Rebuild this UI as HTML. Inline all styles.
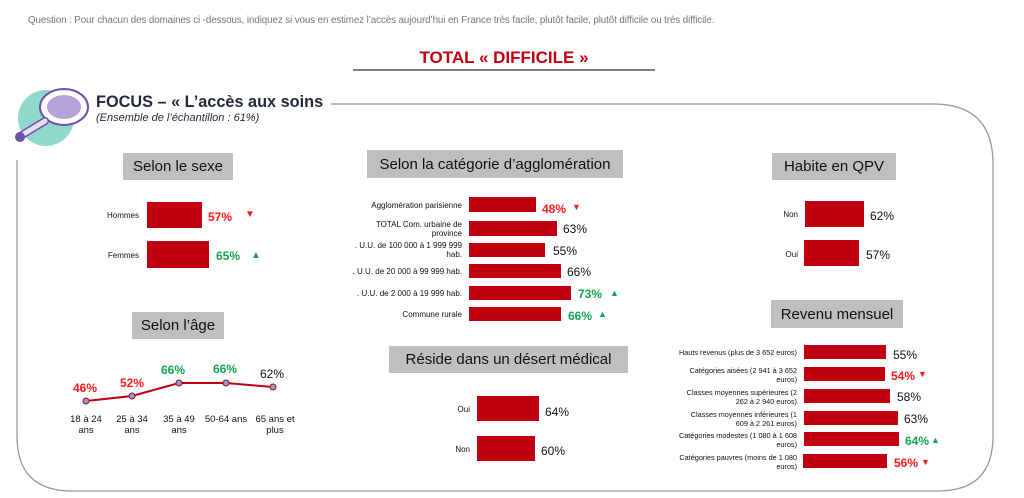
<!DOCTYPE html>
<html><head><meta charset="utf-8"><style>
body{margin:0;width:1024px;height:498px;background:#fff;position:relative;overflow:hidden;font-family:"Liberation Sans",sans-serif}
.a{position:absolute;white-space:nowrap}
.b{position:absolute;background:#c00010}
.h{position:absolute;background:#bfbfbf;color:#111;font-size:15px;text-align:center;display:flex;align-items:center;justify-content:center}
.l{position:absolute;font-size:8px;color:#111;text-align:right;line-height:9px}
.v{position:absolute;font-size:12px;color:#111;line-height:14px;white-space:nowrap}
.r{color:#ff1a1a;font-weight:bold}
.g{color:#13a550;font-weight:bold}
.al{position:absolute;font-size:9.5px;color:#111;text-align:center;width:50px;line-height:11px}
</style></head><body>
<svg class="a" style="left:0;top:0" width="1024" height="498">
<path d="M328 104 H933 Q993 104 993 164 V436 Q993 491 938 491 H72 Q17 491 17 436 V160" fill="none" stroke="#999" stroke-width="1.3"/>
<line x1="353" y1="70" x2="655" y2="70" stroke="#555" stroke-width="1.5"/>
<circle cx="46" cy="118" r="28" fill="#8fd8cc"/>
<ellipse cx="64" cy="107" rx="24" ry="18" fill="#fff" stroke="#6f4fa8" stroke-width="2"/>
<ellipse cx="64" cy="107" rx="17" ry="12" fill="#b7a2dc"/>
<line x1="45" y1="121" x2="22" y2="135" stroke="#6f4fa8" stroke-width="8" stroke-linecap="round"/>
<line x1="45" y1="121" x2="22" y2="135" stroke="#e6e0f2" stroke-width="5" stroke-linecap="round"/>
<circle cx="20" cy="137" r="5" fill="#6f4fa8"/>
<polyline points="86,401 132,396 179,383 226,383 273,387" fill="none" stroke="#c00010" stroke-width="2"/>
<g fill="#7f9fd8" stroke="#c00010" stroke-width="1"><circle cx="86" cy="401" r="3"/><circle cx="132" cy="396" r="3"/><circle cx="179" cy="383" r="3"/><circle cx="226" cy="383" r="3"/><circle cx="273" cy="387" r="3"/></g>
</svg>
<div class="a" style="left:28px;top:15px;font-size:9.8px;letter-spacing:-0.1px;color:#777">Question : Pour chacun des domaines ci -dessous, indiquez si vous en estimez l’accès aujourd’hui en France très facile, plutôt facile, plutôt difficile ou très difficile.</div>
<div class="a" style="left:353px;width:302px;text-align:center;top:48px;font-size:17px;font-weight:bold;color:#c00010">TOTAL « DIFFICILE »</div>
<div class="a" style="left:96px;top:93px;font-size:16.3px;font-weight:bold;color:#1f2a3a;background:#fff;padding-right:8px">FOCUS – « L’accès aux soins</div>
<div class="a" style="left:96px;top:112px;font-size:11px;font-style:italic;color:#1f2a3a">(Ensemble de l’échantillon : 61%)</div>

<div class="h" style="left:123px;top:153px;width:110px;height:27px">Selon le sexe</div>
<div class="l" style="left:60px;width:79px;top:211px">Hommes</div>
<div class="b" style="left:147px;top:202px;width:55px;height:26px"></div>
<div class="v r" style="left:208px;top:210px">57%</div><div class="v" style="left:245px;top:208px;color:#ff1a1a;font-size:10px">▼</div>
<div class="l" style="left:60px;width:79px;top:251px">Femmes</div>
<div class="b" style="left:147px;top:241px;width:62px;height:27px"></div>
<div class="v g" style="left:216px;top:249px">65%</div><div class="v" style="left:251px;top:249px;color:#13a550;font-size:10px">▲</div>

<div class="h" style="left:132px;top:312px;width:92px;height:27px">Selon l’âge</div>
<div class="v r" style="left:73px;top:381px">46%</div>
<div class="v r" style="left:120px;top:376px">52%</div>
<div class="v g" style="left:161px;top:363px">66%</div>
<div class="v g" style="left:213px;top:362px">66%</div>
<div class="v" style="left:260px;top:367px">62%</div>
<div class="al" style="left:61px;top:414px">18 à 24<br>ans</div>
<div class="al" style="left:107px;top:414px">25 à 34<br>ans</div>
<div class="al" style="left:154px;top:414px">35 à 49<br>ans</div>
<div class="al" style="left:199px;top:414px;width:54px">50-64 ans</div>
<div class="al" style="left:248px;top:414px;width:54px">65 ans et<br>plus</div>

<div class="h" style="left:367px;top:150px;width:256px;height:28px">Selon la catégorie d’agglomération</div>
<div class="l" style="left:300px;width:162px;top:201px">Agglomération parisienne</div>
<div class="b" style="left:469px;top:197px;width:67px;height:15px"></div>
<div class="v r" style="left:542px;top:202px">48%</div><div class="v" style="left:572px;top:200px;color:#ff1a1a;font-size:9px">▼</div>
<div class="l" style="left:300px;width:162px;top:220px">TOTAL Com. urbaine de<br>province</div>
<div class="b" style="left:469px;top:221px;width:88px;height:15px"></div>
<div class="v" style="left:563px;top:222px">63%</div>
<div class="l" style="left:300px;width:162px;top:241px">. U.U. de 100 000 à 1 999 999<br>hab.</div>
<div class="b" style="left:469px;top:243px;width:76px;height:14px"></div>
<div class="v" style="left:553px;top:244px">55%</div>
<div class="l" style="left:300px;width:162px;top:267px">. U.U. de 20 000 à 99 999 hab.</div>
<div class="b" style="left:469px;top:264px;width:92px;height:14px"></div>
<div class="v" style="left:567px;top:265px">66%</div>
<div class="l" style="left:300px;width:162px;top:289px">. U.U. de 2 000 à 19 999 hab.</div>
<div class="b" style="left:469px;top:286px;width:102px;height:14px"></div>
<div class="v g" style="left:578px;top:287px">73%</div><div class="v" style="left:610px;top:286px;color:#13a550;font-size:9px">▲</div>
<div class="l" style="left:300px;width:162px;top:310px">Commune rurale</div>
<div class="b" style="left:469px;top:307px;width:92px;height:14px"></div>
<div class="v g" style="left:568px;top:309px">66%</div><div class="v" style="left:598px;top:307px;color:#13a550;font-size:9px">▲</div>

<div class="h" style="left:389px;top:346px;width:239px;height:27px">Réside dans un désert médical</div>
<div class="l" style="left:400px;width:70px;top:405px">Oui</div>
<div class="b" style="left:477px;top:396px;width:62px;height:25px"></div>
<div class="v" style="left:545px;top:405px">64%</div>
<div class="l" style="left:400px;width:70px;top:445px">Non</div>
<div class="b" style="left:477px;top:436px;width:58px;height:25px"></div>
<div class="v" style="left:541px;top:444px">60%</div>

<div class="h" style="left:772px;top:153px;width:124px;height:27px">Habite en QPV</div>
<div class="l" style="left:740px;width:58px;top:210px">Non</div>
<div class="b" style="left:805px;top:201px;width:59px;height:26px"></div>
<div class="v" style="left:870px;top:209px">62%</div>
<div class="l" style="left:740px;width:58px;top:250px">Oui</div>
<div class="b" style="left:804px;top:240px;width:55px;height:26px"></div>
<div class="v" style="left:866px;top:248px">57%</div>

<div class="h" style="left:771px;top:300px;width:132px;height:28px">Revenu mensuel</div>
<div class="l" style="left:640px;width:157px;top:348px;font-size:7.3px">Hauts revenus (plus de 3 652 euros)</div>
<div class="b" style="left:804px;top:345px;width:82px;height:14px"></div>
<div class="v" style="left:893px;top:348px">55%</div>
<div class="l" style="left:640px;width:157px;top:366px;font-size:7.3px">Catégories aisées (2 941 à 3 652<br>euros)</div>
<div class="b" style="left:804px;top:367px;width:81px;height:14px"></div>
<div class="v r" style="left:891px;top:369px">54%</div><div class="v" style="left:918px;top:367px;color:#ff1a1a;font-size:9px">▼</div>
<div class="l" style="left:640px;width:157px;top:388px;font-size:7.3px">Classes moyennes supérieures (2<br>262 à 2 940 euros)</div>
<div class="b" style="left:804px;top:389px;width:86px;height:14px"></div>
<div class="v" style="left:897px;top:390px">58%</div>
<div class="l" style="left:640px;width:157px;top:410px;font-size:7.3px">Classes moyennes inférieures (1<br>609 à 2 261 euros)</div>
<div class="b" style="left:804px;top:411px;width:94px;height:14px"></div>
<div class="v" style="left:904px;top:412px">63%</div>
<div class="l" style="left:640px;width:157px;top:431px;font-size:7.3px">Catégories modestes (1 080 à 1 608<br>euros)</div>
<div class="b" style="left:804px;top:432px;width:95px;height:14px"></div>
<div class="v g" style="left:905px;top:434px">64%</div><div class="v" style="left:931px;top:433px;color:#13a550;font-size:9px">▲</div>
<div class="l" style="left:640px;width:157px;top:453px;font-size:7.3px">Catégories pauvres (moins de 1 080<br>euros)</div>
<div class="b" style="left:803px;top:454px;width:84px;height:14px"></div>
<div class="v r" style="left:894px;top:456px">56%</div><div class="v" style="left:921px;top:455px;color:#ff1a1a;font-size:9px">▼</div>
</body></html>
